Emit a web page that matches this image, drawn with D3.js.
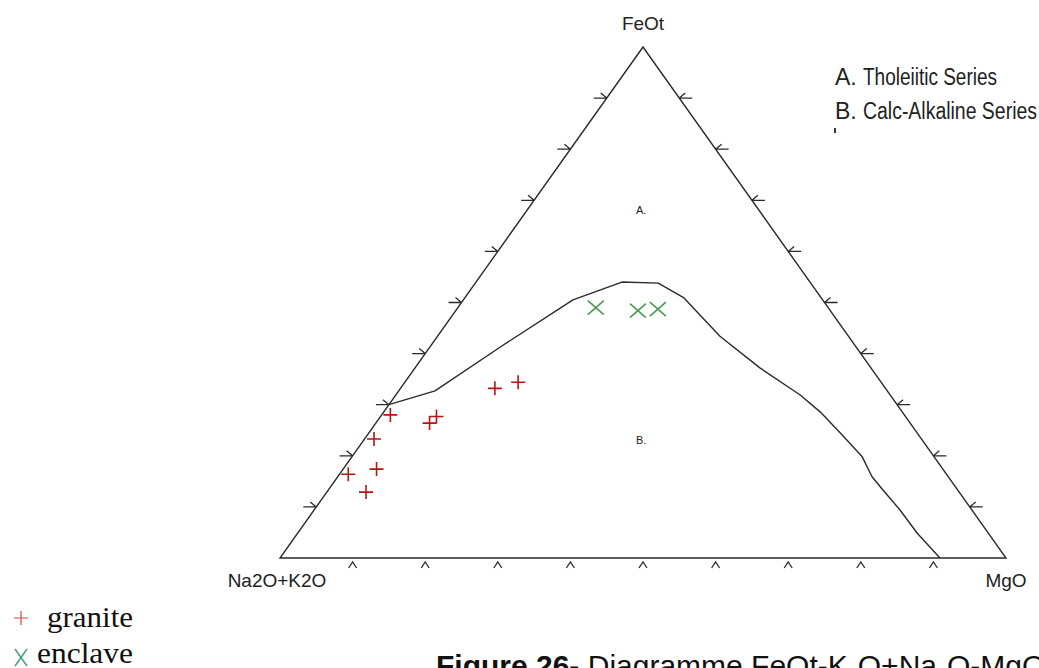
<!DOCTYPE html>
<html>
<head>
<meta charset="utf-8">
<script src="https://cdn.jsdelivr.net/npm/d3@7"></script>
<style>
  html, body { margin: 0; padding: 0; background: #fff; }
  svg { display: block; }
</style>
</head>
<body>
<svg id="chart" width="1039" height="668"></svg>
<script>
// AFM ternary diagram: FeOt (apex), Na2O+K2O (left), MgO (right), in %.

// Granite samples
const graniteFeOt = [28.0, 27.7, 26.4, 23.3, 17.4, 16.4, 12.9, 33.2, 34.4];
const graniteAlk  = [70.8, 64.6, 66.2, 75.4, 78.0, 82.4, 81.7, 53.8, 50.0];
const graniteMgO  = [ 1.2,  7.7,  7.4,  1.3,  4.6,  1.2,  5.4, 13.0, 15.6];

// Enclave samples
const enclaveFeOt = [49.0, 48.4, 48.7];
const enclaveAlk  = [32.0, 26.5, 23.6];
const enclaveMgO  = [19.0, 25.1, 27.7];

// Tholeiitic / calc-alkaline dividing line
const lineFeOt = [30.0, 32.7, 41.3, 50.5, 54.0, 53.8, 50.9, 47.6, 43.4, 37.2, 31.9, 28.6, 24.5, 19.8, 15.9, 13.3, 9.4, 4.9, 0.0];
const lineAlk  = [70.0, 62.3, 49.0, 34.4, 25.9, 21.0, 18.9, 18.4, 17.7, 15.3, 12.4, 11.3, 10.6,  9.9, 10.5, 10.3, 9.9, 9.8, 9.1];
const lineMgO  = [ 0.0,  5.0,  9.7, 15.1, 20.1, 25.2, 30.2, 34.1, 38.9, 47.5, 55.7, 60.1, 64.9, 70.3, 73.6, 76.4, 80.7, 85.3, 90.9];

const tickValues = [10, 20, 30, 40, 50, 60, 70, 80, 90];

const apexLabels = { top: "FeOt", left: "Na2O+K2O", right: "MgO" };
const fieldLabels = ["A.", "B."];
const seriesNames = ["Tholeiitic Series", "Calc-Alkaline Series"];
const sampleNames = ["granite", "enclave"];

const svg = d3.select("#chart");

// Horizontal position follows MgO + FeOt/2, vertical follows FeOt.
const xScale = d3.scaleLinear().domain([0, 100]).range([280, 1006]);
const yScale = d3.scaleLinear().domain([0, 100]).range([558, 47]);

function project(feot, alk, mgo) {
  const s = feot + alk + mgo;
  const a = feot / s * 100, c = mgo / s * 100;
  return [xScale(c + a / 2), yScale(a)];
}

const ink = "#2a2a2a";

// Triangle frame
const corners = [project(100, 0, 0), project(0, 100, 0), project(0, 0, 100)];
svg.append("path")
  .attr("d", d3.line()(corners) + "Z")
  .attr("fill", "none")
  .attr("stroke", ink)
  .attr("stroke-width", 1.4);

// Edge ticks drawn as small arrows
const tickG = svg.append("g")
  .attr("fill", "none")
  .attr("stroke", ink)
  .attr("stroke-width", 1.3);

tickValues.forEach(t => {
  // left edge: arrow pointing inward from outside
  const [lx, ly] = project(t, 100 - t, 0);
  tickG.append("path").attr("d",
    `M${lx - 13},${ly}L${lx},${ly}M${lx - 6},${ly - 5}L${lx},${ly}`);
  // right edge
  const [rx, ry] = project(t, 0, 100 - t);
  tickG.append("path").attr("d",
    `M${rx + 13},${ry}L${rx},${ry}M${rx + 6},${ry - 5}L${rx},${ry}`);
  // base: small caret below the line
  const [bx, by] = project(0, 100 - t, t);
  tickG.append("path").attr("d",
    `M${bx - 4},${by + 10}L${bx},${by + 4}L${bx + 4},${by + 10}`);
});

// Dividing line
svg.append("path")
  .datum(lineFeOt.map((f, i) => project(f, lineAlk[i], lineMgO[i])))
  .attr("d", d3.line())
  .attr("fill", "none")
  .attr("stroke", ink)
  .attr("stroke-width", 1.4)
  .attr("stroke-linejoin", "round");

// Granite: red plus
const graniteG = svg.append("g")
  .attr("stroke", "#b81414")
  .attr("stroke-width", 1.6)
  .attr("fill", "none");
graniteFeOt.forEach((f, i) => {
  const [x, y] = project(f, graniteAlk[i], graniteMgO[i]);
  graniteG.append("path").attr("d", `M${x - 7},${y}L${x + 7},${y}M${x},${y - 7}L${x},${y + 7}`);
});

// Enclave: green cross
const enclaveG = svg.append("g")
  .attr("stroke", "#4b9a55")
  .attr("stroke-width", 1.6)
  .attr("fill", "none");
enclaveFeOt.forEach((f, i) => {
  const [x, y] = project(f, enclaveAlk[i], enclaveMgO[i]);
  enclaveG.append("path").attr("d", `M${x - 8},${y - 7}L${x + 8},${y + 7}M${x + 8},${y - 7}L${x - 8},${y + 7}`);
});

// Apex labels
const labelFont = "'Liberation Sans', Arial, sans-serif";
svg.append("text").attr("x", 643).attr("y", 30).attr("text-anchor", "middle")
  .attr("font-family", labelFont).attr("font-size", 19).attr("fill", "#222")
  .text(apexLabels.top);
svg.append("text").attr("x", 277).attr("y", 587).attr("text-anchor", "middle")
  .attr("font-family", labelFont).attr("font-size", 19).attr("fill", "#222")
  .text(apexLabels.left);
svg.append("text").attr("x", 1006).attr("y", 587).attr("text-anchor", "middle")
  .attr("font-family", labelFont).attr("font-size", 19).attr("fill", "#222")
  .text(apexLabels.right);

// Field letters
svg.append("text").attr("x", 636).attr("y", 214)
  .attr("font-family", labelFont).attr("font-size", 11).attr("fill", "#222")
  .text(fieldLabels[0]);
svg.append("text").attr("x", 636).attr("y", 444)
  .attr("font-family", labelFont).attr("font-size", 11).attr("fill", "#222")
  .text(fieldLabels[1]);

// Field key, top right
const narrowFont = "'Liberation Sans Narrow', 'Arial Narrow', 'Liberation Sans', sans-serif";
const keyRows = [
  { y: 85, end: 997 },
  { y: 119, end: 1037 }
];
keyRows.forEach((r, i) => {
  svg.append("text").attr("x", 835).attr("y", r.y)
    .attr("font-family", narrowFont).attr("font-size", 23).attr("fill", "#222")
    .text(fieldLabels[i]);
  svg.append("text").attr("x", 863).attr("y", r.y)
    .attr("font-family", narrowFont).attr("font-size", 23).attr("fill", "#222")
    .attr("textLength", r.end - 863).attr("lengthAdjust", "spacingAndGlyphs")
    .text(seriesNames[i]);
});
svg.append("rect").attr("x", 834).attr("y", 128).attr("width", 2).attr("height", 5).attr("fill", "#333");

// Sample key, bottom left
svg.append("path")
  .attr("d", "M14,618L28,618M21,611L21,625")
  .attr("stroke", "#d04848").attr("stroke-width", 1.2).attr("fill", "none");
svg.append("path")
  .attr("d", "M15,649L27,666M27,649L15,666")
  .attr("stroke", "#3f9d78").attr("stroke-width", 1.4).attr("fill", "none");
const serif = "'Liberation Serif', 'Times New Roman', serif";
svg.append("text").attr("x", 47).attr("y", 627)
  .attr("font-family", serif).attr("font-size", 29).attr("fill", "#111")
  .attr("textLength", 86).attr("lengthAdjust", "spacingAndGlyphs")
  .text(sampleNames[0]);
svg.append("text").attr("x", 37).attr("y", 663)
  .attr("font-family", serif).attr("font-size", 29).attr("fill", "#111")
  .attr("textLength", 96).attr("lengthAdjust", "spacingAndGlyphs")
  .text(sampleNames[1]);

// Caption
const cap = svg.append("text").attr("x", 436).attr("y", 676)
  .attr("font-family", labelFont).attr("font-size", 30).attr("fill", "#111");
cap.append("tspan").attr("font-weight", "bold").text("Figure 26-");
cap.append("tspan").text(" Diagramme FeOt-K");
cap.append("tspan").attr("font-size", 18).attr("dy", 5).text("2");
cap.append("tspan").attr("dy", -5).text("O+Na");
cap.append("tspan").attr("font-size", 18).attr("dy", 5).text("2");
cap.append("tspan").attr("dy", -5).text("O-MgO");
</script>
</body>
</html>
